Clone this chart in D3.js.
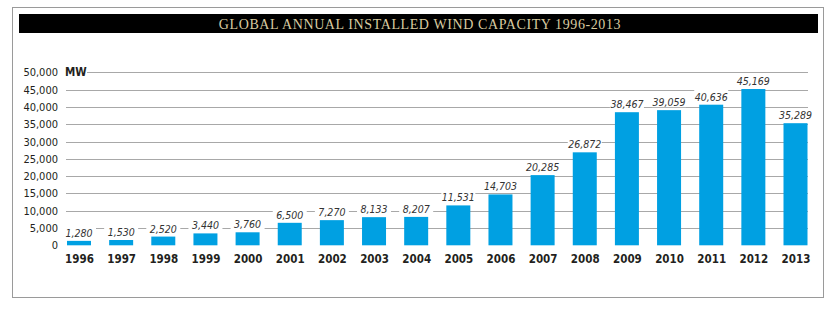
<!DOCTYPE html>
<html><head><meta charset="utf-8">
<script src="https://cdn.jsdelivr.net/npm/d3@7"></script>
<style>
html,body{margin:0;padding:0;background:#fff;}
svg{display:block;}
</style></head>
<body>
<svg id="chart" width="834" height="315"></svg>
<script>
const titleText = "GLOBAL ANNUAL INSTALLED WIND CAPACITY 1996-2013";
const years = ["1996","1997","1998","1999","2000","2001","2002","2003","2004","2005","2006","2007","2008","2009","2010","2011","2012","2013"];
const capacity = [1280,1530,2520,3440,3760,6500,7270,8133,8207,11531,14703,20285,26872,38467,39059,40636,45169,35289];
const yTicks = [0,5000,10000,15000,20000,25000,30000,35000,40000,45000,50000];
const unitLabel = "MW";

const svg = d3.select("#chart");
const fontNarrow = "'Liberation Sans Narrow','DejaVu Sans Condensed','Roboto Condensed',sans-serif";

// frame
svg.append("rect").attr("x",12.5).attr("y",7.5).attr("width",811).attr("height",290)
  .attr("fill","#fff").attr("stroke","#9a9a9a").attr("stroke-width",1);
// title bar
svg.append("rect").attr("x",19).attr("y",14).attr("width",799).attr("height",19).attr("fill","#000");
svg.append("text").attr("x",420).attr("y",28.5).attr("text-anchor","middle")
  .attr("font-family","'Liberation Serif','DejaVu Serif',serif").attr("font-size",14)
  .attr("letter-spacing",0.6).attr("fill","#d9cba0").text(titleText);

const x = d3.scalePoint().domain(years).range([79,795.5]);
const y = d3.scaleLinear().domain([0,50000]).range([245.3,72.3]);
const barW = 24;

// grid lines
const grid = svg.append("g");
grid.selectAll("line").data(yTicks.filter(d=>d>0)).join("line")
  .attr("x1",d=>d===50000?87:66).attr("x2",808)
  .attr("y1",d=>Math.round(y(d))+0.5).attr("y2",d=>Math.round(y(d))+0.5)
  .attr("stroke","#a8a8a8").attr("stroke-width",1);

// y axis via d3 axis
const yAxis = d3.axisLeft(y).tickValues(yTicks).tickSize(0).tickPadding(0)
  .tickFormat(d3.format(","));
const yg = svg.append("g").attr("transform","translate(58,0)").call(yAxis);
yg.select(".domain").remove();
yg.selectAll("text").attr("font-family",fontNarrow).attr("font-size",11).attr("fill","#231f20");

svg.append("text").attr("x",65).attr("y",y(50000)+4).attr("font-family",fontNarrow)
  .attr("font-size",11.5).attr("font-weight","bold").attr("fill","#231f20").text(unitLabel);

// bars
svg.append("g").selectAll("rect").data(capacity).join("rect")
  .attr("x",(d,i)=>x(years[i])-barW/2).attr("width",barW)
  .attr("y",d=>y(d)).attr("height",d=>y(0)-y(d)).attr("fill","#00a0e2");

// value labels with white knockout
const lab = svg.append("g").selectAll("g").data(capacity).join("g")
  .attr("transform",(d,i)=>`translate(${x(years[i])},${y(d)-4})`);
lab.append("rect").attr("x",-17).attr("width",34).attr("y",-11).attr("height",12).attr("fill","#fff");
lab.append("text").attr("text-anchor","middle").attr("font-family",fontNarrow)
  .attr("font-size",10.5).attr("font-style","italic").attr("fill","#333")
  .text(d=>d3.format(",")(d));

// x axis
const xAxis = d3.axisBottom(x).tickSize(0).tickPadding(0);
const xg = svg.append("g").attr("transform","translate(0,255)").call(xAxis);
xg.select(".domain").remove();
xg.selectAll("text").attr("font-family",fontNarrow).attr("font-size",11.5)
  .attr("font-weight","bold").attr("fill","#231f20").attr("dy","0.71em");
</script>
</body></html>
